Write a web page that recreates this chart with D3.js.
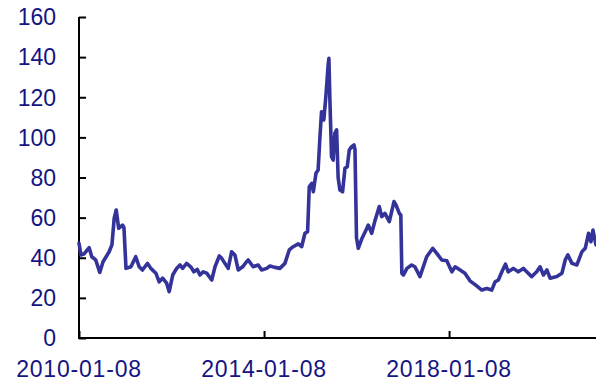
<!DOCTYPE html>
<html>
<head>
<meta charset="utf-8">
<script src="https://cdn.jsdelivr.net/npm/d3@7"></script>
<style>
  html, body { margin: 0; padding: 0; background: #fff; }
  svg { display: block; }
</style>
</head>
<body>
<svg id="chart" width="596" height="382"></svg>
<script>
const dates = ["2010-01-08","2010-01-24","2010-02-19","2010-03-29","2010-04-19","2010-05-20","2010-06-21","2010-07-17","2010-09-03","2010-09-25","2010-10-13","2010-10-29","2010-11-17","2010-12-18","2010-12-29","2011-01-14","2011-02-22","2011-04-01","2011-04-28","2011-05-24","2011-07-03","2011-07-29","2011-09-07","2011-10-03","2011-10-30","2011-12-01","2011-12-21","2012-01-18","2012-02-18","2012-03-15","2012-04-05","2012-05-07","2012-06-08","2012-07-03","2012-07-29","2012-08-20","2012-09-15","2012-10-12","2012-11-21","2012-12-17","2013-01-20","2013-02-08","2013-03-05","2013-03-31","2013-04-27","2013-05-23","2013-06-18","2013-07-23","2013-08-23","2013-09-05","2013-10-14","2013-11-23","2013-12-20","2014-01-29","2014-02-24","2014-04-04","2014-05-13","2014-06-22","2014-07-26","2014-08-26","2014-10-05","2014-11-01","2014-11-27","2014-12-18","2014-12-31","2015-01-20","2015-02-01","2015-02-22","2015-03-11","2015-03-24","2015-04-07","2015-04-25","2015-05-11","2015-05-29","2015-06-04","2015-06-12","2015-06-25","2015-07-08","2015-07-21","2015-08-04","2015-08-16","2015-08-30","2015-09-20","2015-10-09","2015-10-27","2015-11-12","2015-12-01","2015-12-19","2015-12-27","2016-01-08","2016-01-22","2016-02-18","2016-03-28","2016-04-10","2016-05-07","2016-06-02","2016-07-06","2016-07-25","2016-08-20","2016-09-23","2016-10-30","2016-11-15","2016-12-12","2016-12-23","2016-12-31","2017-01-13","2017-02-09","2017-03-18","2017-04-13","2017-05-23","2017-07-15","2017-09-01","2017-10-03","2017-11-11","2017-12-21","2018-01-30","2018-02-25","2018-04-05","2018-05-13","2018-06-22","2018-08-14","2018-09-23","2018-11-01","2018-12-11","2019-01-06","2019-02-01","2019-03-07","2019-03-29","2019-04-20","2019-05-30","2019-07-08","2019-08-17","2019-09-13","2019-10-22","2019-12-01","2019-12-27","2020-01-23","2020-02-19","2020-03-16","2020-05-08","2020-06-17","2020-07-13","2020-08-03","2020-09-04","2020-10-13","2020-11-22","2020-12-18","2021-01-13","2021-02-01","2021-02-17","2021-03-13"];

const values = [47.2,41.4,42,45,40.5,38.9,32.7,38,43,46.4,59.7,63.8,54.7,56.3,55,34.7,35.5,40.5,35.5,33.9,37.2,34.7,32.3,28,29.8,27.3,23.1,31.4,34.7,36.4,34.7,37.2,35.5,33,34.2,31.4,33,32.3,28.9,35.5,40.9,39.7,37.2,34.7,43,41.4,33.9,35.5,38,38.9,35.5,36.4,33.9,34.7,35.9,35.2,34.7,37.2,43.9,45.5,46.9,45.5,52.2,53,75.4,77.1,72.9,82.1,83.7,98.7,112.8,108.7,120.3,136,139.4,118.6,90.4,88.7,102,103.7,80,73.8,72.9,84.6,85.4,93.7,95.4,96.2,94,50,44.7,49.3,54.5,56.3,52.2,58.5,65.5,60.5,62.1,58,68,66.3,62,61.3,32.3,31.4,34.7,36.4,35.5,30.6,40.5,44.7,42.2,38.9,38.5,33,35.5,33.9,32.3,28.5,26,23.9,24.7,23.9,28,28.9,33.9,36.8,33,34.7,33,34.7,33,30.6,33,35.5,31.4,33.9,29.8,30.6,32.3,38.9,41.4,37.2,36.4,43,44.7,52.2,48,53.8,46.4];

const xTickLabels = ["2010-01-08","2014-01-08","2018-01-08"];
const yTicks = [0,20,40,60,80,100,120,140,160];

const parse = d3.timeParse("%Y-%m-%d");
const data = dates.map((d,i) => ({date: parse(d), value: values[i]}));

const svg = d3.select("#chart");
const mLeft = 79, mRight = 596, mTop = 17, mBottom = 338;

const x = d3.scaleTime()
  .domain([parse(dates[0]), parse(dates[dates.length-1])])
  .range([mLeft, mRight]);
const y = d3.scaleLinear().domain([0,160]).range([mBottom, mTop]);

const textColor = "#141482";
const font = "'Liberation Sans', Arial, sans-serif";

// Y axis
const yAxis = d3.axisRight(y).tickValues(yTicks).tickSize(7).tickFormat("");
const gy = svg.append("g").attr("transform", `translate(${mLeft},0)`).call(yAxis);
gy.select(".domain").attr("stroke", "#000").attr("stroke-width", 2).attr("d", `M0,${mTop}V${mBottom}`);
gy.selectAll(".tick line").attr("stroke", "#000").attr("stroke-width", 2);

svg.append("g").selectAll("text").data(yTicks).join("text")
  .attr("x", mLeft - 23).attr("y", d => y(d)).attr("dy", "0.36em")
  .attr("text-anchor", "end")
  .attr("fill", textColor).attr("font-family", font).attr("font-size", 23)
  .text(d => d);

// X axis
const xTicks = xTickLabels.map(parse);
const xAxis = d3.axisTop(x).tickValues(xTicks).tickSize(7).tickFormat("");
const gx = svg.append("g").attr("transform", `translate(0,${mBottom})`).call(xAxis);
gx.select(".domain").attr("stroke", "#000").attr("stroke-width", 2).attr("d", `M${mLeft - 1},0H${mRight}`);
gx.selectAll(".tick line").attr("stroke", "#000").attr("stroke-width", 2);

svg.append("g").selectAll("text").data(xTickLabels).join("text")
  .attr("x", d => x(parse(d))).attr("y", 377)
  .attr("text-anchor", "middle")
  .attr("letter-spacing", 0.8)
  .attr("fill", textColor).attr("font-family", font).attr("font-size", 23)
  .text(d => d);

// Line
const line = d3.line().x(d => x(d.date)).y(d => y(d.value));
svg.append("path").datum(data)
  .attr("fill", "none").attr("stroke", "#333399").attr("stroke-width", 3.6)
  .attr("stroke-linejoin", "round").attr("stroke-linecap", "round")
  .attr("d", line);
</script>
</body>
</html>
